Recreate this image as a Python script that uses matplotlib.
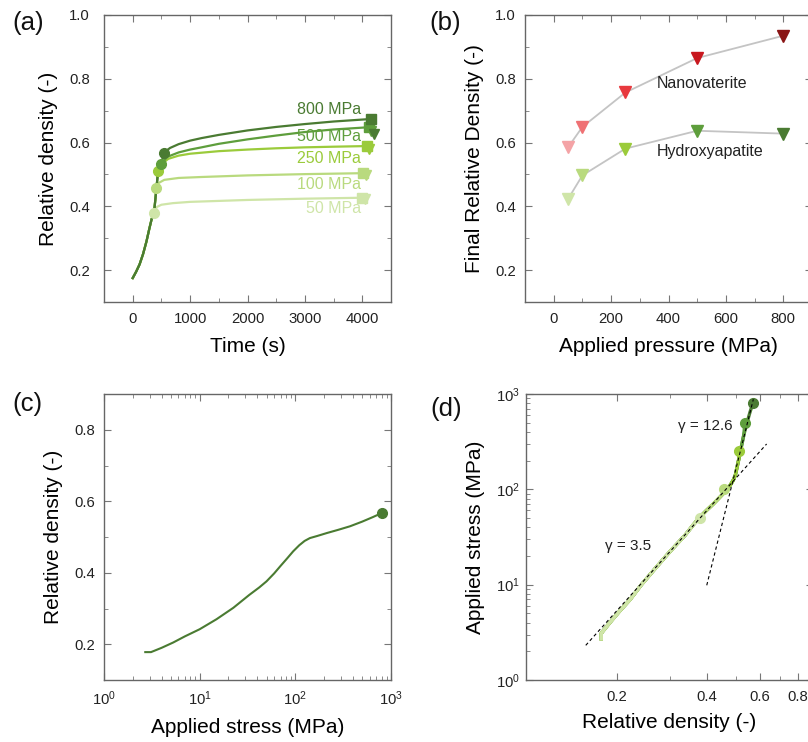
import matplotlib
matplotlib.use("Agg")
import matplotlib.pyplot as plt
from matplotlib.ticker import MultipleLocator, LogLocator, FixedLocator, NullFormatter

plt.rcParams['font.family'] = ['Liberation Sans', 'DejaVu Sans']
plt.rcParams['mathtext.default'] = 'regular'

# pressures and colours
pressures = [50, 100, 250, 500, 800]
pressure_labels = ['50 MPa', '100 MPa', '250 MPa', '500 MPa', '800 MPa']
green_colors = ['#cfe5a8', '#b9da7e', '#9bcb3b', '#5e9e3c', '#4a7b32']
red_colors = ['#f4a3a6', '#ef7174', '#e8393e', '#c8181f', '#8a1515']

# (a) shared loading ramp, last five points are the end-of-loading circles
load_time = [0, 60, 120, 180, 240, 290, 330, 372, 413, 442, 501, 541]
load_density = [0.175, 0.195, 0.218, 0.250, 0.290, 0.330, 0.360, 0.380, 0.456, 0.510, 0.534, 0.568]

# (a) holding phase, one list per pressure
hold_time_50 = [420, 500, 700, 1000, 2000, 3000, 4000]
hold_dens_50 = [0.398, 0.405, 0.410, 0.414, 0.420, 0.424, 0.427]
hold_time_100 = [450, 550, 800, 1200, 2000, 3000, 4020]
hold_dens_100 = [0.473, 0.483, 0.489, 0.492, 0.497, 0.501, 0.504]
hold_time_250 = [520, 620, 800, 1000, 1500, 2000, 2500, 3000, 3500, 4080]
hold_dens_250 = [0.535, 0.549, 0.559, 0.565, 0.573, 0.578, 0.582, 0.585, 0.587, 0.589]
hold_time_500 = [600, 800, 1000, 1200, 1500, 2000, 2500, 3000, 3500, 4110]
hold_dens_500 = [0.555, 0.569, 0.578, 0.585, 0.596, 0.610, 0.622, 0.633, 0.641, 0.648]
hold_time_800 = [650, 800, 1000, 1200, 1500, 2000, 2500, 3000, 3500, 4157]
hold_dens_800 = [0.583, 0.595, 0.606, 0.614, 0.624, 0.638, 0.649, 0.658, 0.666, 0.674]
hold_times = [hold_time_50, hold_time_100, hold_time_250, hold_time_500, hold_time_800]
hold_dens = [hold_dens_50, hold_dens_100, hold_dens_250, hold_dens_500, hold_dens_800]

# final measured density markers (triangles in a)
final_time = [4040, 4070, 4120, 4160, 4210]

# (b) final relative density
nano_density = [0.585, 0.649, 0.757, 0.865, 0.935]
ha_density = [0.423, 0.497, 0.581, 0.637, 0.628]

# (c) loading curve of the 800 MPa run
stress_c = [2.7, 3.1, 4, 5.3, 7, 10, 15, 22.5, 33, 42, 50, 60, 70, 82, 95, 110, 125, 142,
            170, 213, 280, 373, 500, 650, 800]
density_c = [0.178, 0.178, 0.19, 0.205, 0.222, 0.242, 0.27, 0.302, 0.338, 0.359, 0.376, 0.398,
             0.419, 0.440, 0.460, 0.477, 0.489, 0.497, 0.503, 0.511, 0.520, 0.530, 0.543,
             0.556, 0.567]

# (d) fit lines (end points)
fit1_density = [0.158, 0.631]
fit1_stress = [2.31, 299]
fit2_density = [0.399, 0.57]
fit2_stress = [9.85, 880]

fig = plt.figure(figsize=(8.08, 7.42), dpi=100)
W, H = 808, 742


def make_ax(left, top, w, h):
    return fig.add_axes([left / W, 1 - (top + h) / H, w / W, h / H])


def style(ax, xpad, ypad):
    for s in ax.spines.values():
        s.set_color('#666666')
        s.set_linewidth(1)
    ax.tick_params(which='both', direction='in', top=True, right=True, color='#777777',
                   labelsize=10.7, labelcolor='#222222')
    ax.tick_params(which='major', length=5)
    ax.tick_params(which='minor', length=3)
    ax.tick_params(axis='x', which='both', pad=xpad)
    ax.tick_params(axis='y', which='both', pad=ypad)


ax1 = make_ax(104, 15, 287, 287)
ax2 = make_ax(525, 15, 287, 287)
ax3 = make_ax(104, 394, 287, 286)
ax4 = make_ax(526, 394, 287, 286)

# (a)
for i in range(len(pressures)):
    n = 7 + i + 1
    t = load_time[:n] + hold_times[i]
    d = load_density[:n] + hold_dens[i]
    ax1.plot(t, d, color=green_colors[i], lw=1.6, zorder=2)
for i in range(len(pressures)):
    c = green_colors[i]
    ax1.plot(load_time[7 + i], load_density[7 + i], 'o', color=c, ms=7, zorder=3)
    ax1.plot(hold_times[i][-1], hold_dens[i][-1], 's', color=c, ms=6.5, zorder=3)
    ax1.plot(final_time[i], ha_density[i], 'v', color=c, ms=7.5, zorder=4)
label_y = [0.394, 0.469, 0.549, 0.620, 0.705]
for i in range(len(pressures)):
    ax1.text(3983, label_y[i], pressure_labels[i], color=green_colors[i], fontsize=11.5,
             ha='right', va='center')
ax1.set_xlim(-500, 4500)
ax1.set_ylim(0.1, 1.0)
ax1.xaxis.set_major_locator(MultipleLocator(1000))
ax1.xaxis.set_minor_locator(MultipleLocator(500))
ax1.yaxis.set_major_locator(MultipleLocator(0.2))
ax1.yaxis.set_minor_locator(MultipleLocator(0.1))
style(ax1, 7, 10)
ax1.set_xlabel('Time (s)', fontsize=15, labelpad=8)
ax1.set_ylabel('Relative density (-)', fontsize=15, labelpad=8)

# (b)
ax2.plot(pressures, nano_density, color='#c4c4c4', lw=1.3, zorder=1)
ax2.plot(pressures, ha_density, color='#c4c4c4', lw=1.3, zorder=1)
for i in range(len(pressures)):
    ax2.plot(pressures[i], nano_density[i], 'v', color=red_colors[i], ms=8, zorder=2)
    ax2.plot(pressures[i], ha_density[i], 'v', color=green_colors[i], ms=8, zorder=2)
ax2.text(358, 0.784, 'Nanovaterite', fontsize=11.5, color='#222222', va='center')
ax2.text(358, 0.572, 'Hydroxyapatite', fontsize=11.5, color='#222222', va='center')
ax2.set_xlim(-100, 900)
ax2.set_ylim(0.1, 1.0)
ax2.xaxis.set_major_locator(MultipleLocator(200))
ax2.xaxis.set_minor_locator(MultipleLocator(100))
ax2.yaxis.set_major_locator(MultipleLocator(0.2))
ax2.yaxis.set_minor_locator(MultipleLocator(0.1))
style(ax2, 7, 6.5)
ax2.set_xlabel('Applied pressure (MPa)', fontsize=15, labelpad=8)
ax2.set_ylabel('Final Relative Density (-)', fontsize=15, labelpad=8)

# (c)
ax3.plot(stress_c, density_c, color=green_colors[4], lw=1.5)
ax3.plot(stress_c[-1], density_c[-1], 'o', color=green_colors[4], ms=7)
ax3.set_xscale('log')
ax3.set_xlim(1, 1000)
ax3.set_ylim(0.1, 0.9)
ax3.xaxis.set_major_locator(LogLocator(base=10))
ax3.xaxis.set_minor_locator(LogLocator(base=10, subs=range(2, 10)))
ax3.xaxis.set_minor_formatter(NullFormatter())
ax3.yaxis.set_major_locator(MultipleLocator(0.2))
ax3.yaxis.set_minor_locator(MultipleLocator(0.1))
style(ax3, 7, 6.5)
ax3.set_xlabel('Applied stress (MPa)', fontsize=15, labelpad=7)
ax3.set_ylabel('Relative density (-)', fontsize=15, labelpad=8)

# (d)
circle_density = load_density[7:]
for i in reversed(range(len(pressures))):
    xs = [d for d, s in zip(density_c, stress_c) if s < pressures[i]] + [circle_density[i]]
    ys = [s for s in stress_c if s < pressures[i]] + [pressures[i]]
    ax4.plot(xs, ys, color=green_colors[i], lw=2.4, zorder=2)
for i in range(len(pressures)):
    ax4.plot(circle_density[i], pressures[i], 'o', color=green_colors[i], ms=7, zorder=3)
ax4.plot(fit1_density, fit1_stress, color='black', lw=0.8, ls=(0, (3, 2.5)), zorder=4)
ax4.plot(fit2_density, fit2_stress, color='black', lw=0.8, ls=(0, (3, 2.5)), zorder=4)
ax4.text(0.32, 458, 'γ = 12.6', fontsize=11, color='#222222', va='center')
ax4.text(0.1824, 25.2, 'γ = 3.5', fontsize=11, color='#222222', va='center')
ax4.set_xscale('log')
ax4.set_yscale('log')
ax4.set_xlim(0.1, 0.9)
ax4.set_ylim(1, 1000)
ax4.xaxis.set_major_locator(FixedLocator([0.2, 0.4, 0.6, 0.8]))
ax4.xaxis.set_minor_locator(FixedLocator([0.3, 0.5, 0.7]))
ax4.xaxis.set_major_formatter(plt.FuncFormatter(lambda v, p: '%.1f' % v))
ax4.xaxis.set_minor_formatter(NullFormatter())
ax4.yaxis.set_major_locator(LogLocator(base=10))
ax4.yaxis.set_minor_locator(LogLocator(base=10, subs=range(2, 10)))
ax4.yaxis.set_minor_formatter(NullFormatter())
style(ax4, 7, 4.5)
ax4.set_xlabel('Relative density (-)', fontsize=15, labelpad=7)
ax4.set_ylabel('Applied stress (MPa)', fontsize=15, labelpad=8)

# panel letters
for x, y, s in [(12, 23, '(a)'), (429, 23, '(b)'), (12, 404, '(c)'), (430, 409, '(d)')]:
    fig.text(x / W, 1 - y / H, s, fontsize=18.5, ha='left', va='center', color='#111111')

fig.savefig('out.png', dpi=100)
